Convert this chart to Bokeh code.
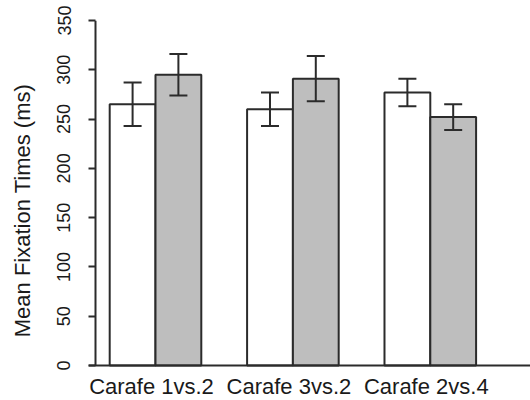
from bokeh.plotting import figure
from bokeh.models import (ColumnDataSource, Whisker, TeeHead, FixedTicker,
                          Range1d, Span)
from bokeh.core.properties import value
from bokeh.embed import file_html
from bokeh.resources import INLINE

# ---- data ----
categories = ["Carafe 1vs.2", "Carafe 3vs.2", "Carafe 2vs.4"]
white_vals = [265, 260, 277]
white_err = [22, 17, 14]
gray_vals = [295, 291, 252]
gray_err = [21, 23, 13]
y_ticks = [0, 50, 100, 150, 200, 250, 300, 350]

FONT = "Liberation Sans"
INK = "#2b2b2b"

# group centres in R barplot units (bar width 1, gap 1 between groups)
centers = [2 + 3 * i for i in range(len(categories))]
wx = [c - 0.5 for c in centers]
gx = [c + 0.5 for c in centers]

X0 = 0.5372          # left edge of the frame (tick ends)
YAXIS_X = 0.69       # where the y-axis line sits
p = figure(width=530, height=400, output_backend="svg", toolbar_location=None,
           x_range=Range1d(X0, 10.188), y_range=Range1d(-35.5, 350),
           x_axis_location=None,
           min_border_left=88, min_border_right=0, min_border_top=20,
           min_border_bottom=0)
p.outline_line_color = None
p.grid.visible = False
p.background_fill_color = "white"
p.border_fill_color = "white"

src_w = ColumnDataSource(dict(x=wx, top=white_vals,
                              upper=[v + e for v, e in zip(white_vals, white_err)],
                              lower=[v - e for v, e in zip(white_vals, white_err)]))
src_g = ColumnDataSource(dict(x=gx, top=gray_vals,
                              upper=[v + e for v, e in zip(gray_vals, gray_err)],
                              lower=[v - e for v, e in zip(gray_vals, gray_err)]))

p.vbar(x="x", top="top", bottom=0, width=1, source=src_w,
       fill_color="white", line_color=INK, line_width=2)
p.vbar(x="x", top="top", bottom=0, width=1, source=src_g,
       fill_color="#bebebe", line_color=INK, line_width=2)

# baseline and y-axis line
p.add_layout(Span(location=0, dimension="width", line_color=INK, line_width=2))
p.segment(x0=[YAXIS_X], y0=[y_ticks[0]], x1=[YAXIS_X], y1=[y_ticks[-1]],
          line_color=INK, line_width=2)

for src in (src_w, src_g):
    w = Whisker(source=src, base="x", upper="upper", lower="lower",
                line_color=INK, line_width=2, level="overlay",
                upper_head=TeeHead(size=18, line_color=INK, line_width=2),
                lower_head=TeeHead(size=18, line_color=INK, line_width=2))
    p.add_layout(w)

# y axis (ticks drawn inward from the frame edge up to the axis line)
ya = p.yaxis[0]
ya.ticker = FixedTicker(ticks=y_ticks)
ya.minor_tick_line_color = None
ya.major_tick_out = 0
ya.major_tick_in = 7
ya.major_tick_line_width = 2
ya.major_tick_line_color = INK
ya.axis_line_color = None
ya.major_label_orientation = "parallel"
ya.major_label_text_font = FONT
ya.major_label_text_font_size = "18px"
ya.major_label_text_color = "#1a1a1a"
ya.major_label_standoff = 18
ya.axis_label = "Mean Fixation Times (ms)"
ya.axis_label_text_font = FONT
ya.axis_label_text_font_size = "22px"
ya.axis_label_text_font_style = "normal"
ya.axis_label_text_color = "#1a1a1a"
ya.axis_label_standoff = 20

# category labels under the groups
lab_src = ColumnDataSource(dict(x=centers, y=[-21.5] * len(categories), text=categories))
p.text(x="x", y="y", text="text", source=lab_src, x_offset=-4,
       text_align="center", text_baseline="alphabetic",
       text_font=value(FONT), text_font_size="22px", text_color="#1a1a1a")

open("out.html", "w").write(file_html(p, INLINE))
